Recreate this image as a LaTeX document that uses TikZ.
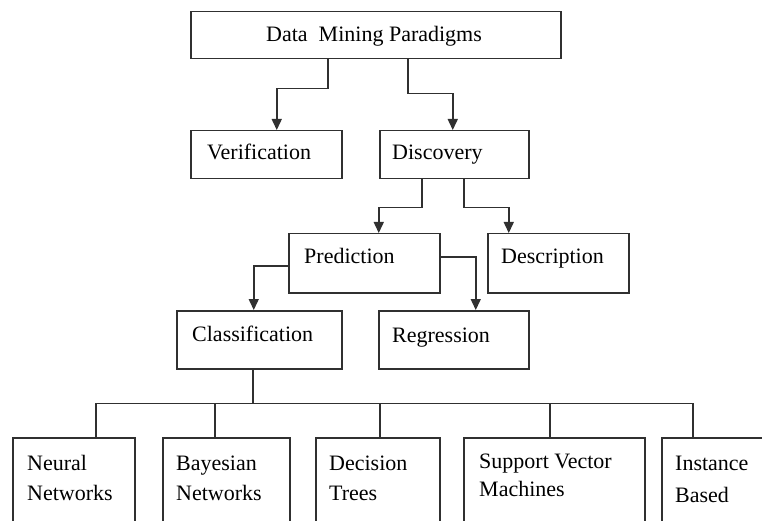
\documentclass[tikz,border=0pt]{standalone}
\usepackage{fontspec}
\setmainfont{Liberation Serif}
\usetikzlibrary{arrows.meta}
\definecolor{linec}{HTML}{303030}
\tikzset{
  box/.style={draw=linec, line width=1.5pt, rectangle, inner sep=0pt, anchor=north west, fill=white},
  lbl/.style={anchor=base west, inner sep=0pt, font=\fontsize{22}{26}\selectfont, text=black},
  conn/.style={draw=linec, line width=1.5pt},
  arr/.style={conn, -{Triangle[length=11pt,width=10pt]}}
}
\begin{document}
\begin{tikzpicture}[x=1pt,y=-1pt]
\clip (0,0) rectangle (762,521);
\fill[white] (0,0) rectangle (762,521);
% boxes
\node[box, minimum width=370pt, minimum height=47pt] (top) at (190,11) {};
\node[box, minimum width=151pt, minimum height=48pt] (ver) at (190,130) {};
\node[box, minimum width=149pt, minimum height=48pt] (disc) at (379,130) {};
\node[box, minimum width=151pt, minimum height=59pt] (pred) at (288,233) {};
\node[box, minimum width=141pt, minimum height=59pt] (desc) at (487,233) {};
\node[box, minimum width=165pt, minimum height=58pt] (cls) at (176,310) {};
\node[box, minimum width=150pt, minimum height=58pt] (reg) at (378,310) {};
\node[box, minimum width=122pt, minimum height=110pt] (nn) at (12,437) {};
\node[box, minimum width=127pt, minimum height=110pt] (bn) at (162,437) {};
\node[box, minimum width=124pt, minimum height=110pt] (dt) at (315,437) {};
\node[box, minimum width=181pt, minimum height=110pt] (svm) at (463,437) {};
\node[box, minimum width=130pt, minimum height=110pt] (ib) at (661,437) {};
% labels
\node[lbl] (ttop) at (266,42) {Data\ \ Mining Paradigms};
\node[lbl] (tver) at (207,160) {Verification};
\node[lbl] (tdisc) at (392,160) {Discovery};
\node[lbl] (tpred) at (304,263) {Prediction};
\node[lbl] (tdesc) at (501,263) {Description};
\node[lbl] (tcls) at (192,341) {Classification};
\node[lbl] (treg) at (392,342) {Regression};
\node[lbl] (tnn1) at (27,470) {Neural};
\node[lbl] (tnn2) at (27,500) {Networks};
\node[lbl] (tbn1) at (176,470) {Bayesian};
\node[lbl] (tbn2) at (176,500) {Networks};
\node[lbl] (tdt1) at (329,470) {Decision};
\node[lbl] (tdt2) at (329,500) {Trees};
\node[lbl] (tsvm1) at (479,468) {Support Vector};
\node[lbl] (tsvm2) at (479,496) {Machines};
\node[lbl] (tib1) at (675,470) {Instance};
\node[lbl] (tib2) at (675,502) {Based};
% arrows
\draw[arr] ([xshift=-48pt]top.south) -- ++(0,29) -| ([xshift=10.5pt]ver.north);
\draw[arr] ([xshift=32pt]top.south) -- ++(0,34) -| ([xshift=-1.5pt]disc.north);
\draw[arr] ([xshift=-32.5pt]disc.south) -- ++(0,28) -| ([xshift=14.5pt]pred.north);
\draw[arr] ([xshift=9.5pt]disc.south) -- ++(0,28) -| ([xshift=-49.5pt]desc.north);
\draw[arr] ([yshift=-2.5pt]pred.west) -| ([xshift=-5.5pt]cls.north);
\draw[arr] ([yshift=6.5pt]pred.east) -| ([xshift=22pt]reg.north);
% tree
\draw[conn] ([xshift=-6.5pt]cls.south) -- ++(0,34) coordinate (bus);
\draw[conn] ([xshift=22pt]nn.north) |- (bus) -| ([xshift=-34pt]ib.north);
\draw[conn] ([xshift=-11.5pt]bn.north) -- ([xshift=-11.5pt]bn.north |- bus);
\draw[conn] ([xshift=2pt]dt.north) -- ([xshift=2pt]dt.north |- bus);
\draw[conn] ([xshift=-4.5pt]svm.north) -- ([xshift=-4.5pt]svm.north |- bus);
\end{tikzpicture}
\end{document}
